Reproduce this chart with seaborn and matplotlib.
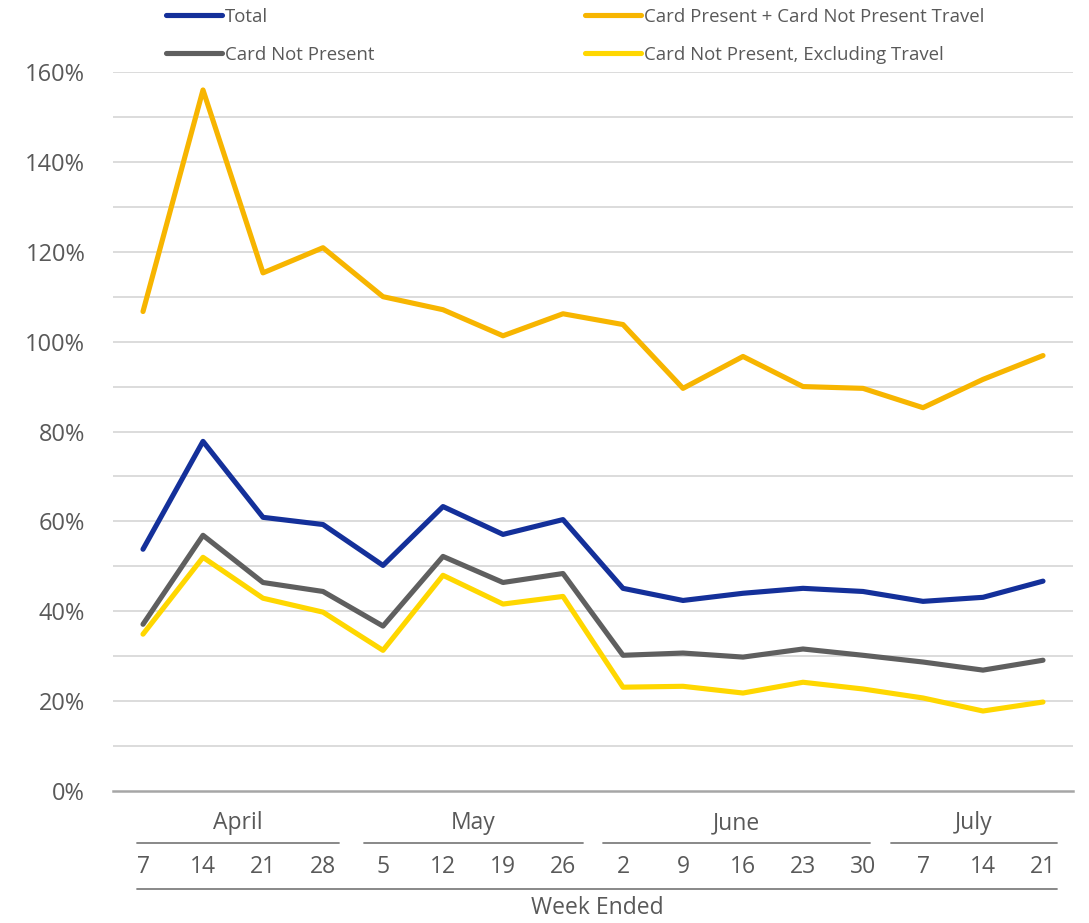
import matplotlib
matplotlib.use("Agg")
import matplotlib.pyplot as plt
from matplotlib.lines import Line2D
import matplotlib.transforms as mtransforms
import seaborn as sns
import pandas as pd
import numpy as np

# ---- data ----
week_labels = ["7", "14", "21", "28", "5", "12", "19", "26", "2", "9", "16", "23", "30", "7", "14", "21"]
months = ["April", "May", "June", "July"]
month_sizes = [4, 4, 5, 3]

total = [53.8, 77.8, 60.9, 59.3, 50.2, 63.3, 57.1, 60.4, 45.1, 42.4, 44.0, 45.1, 44.4, 42.2, 43.1, 46.7]
cp_cnp_travel = [106.7, 156.0, 115.3, 120.9, 110.0, 107.1, 101.3, 106.2, 103.8, 89.6, 96.7, 90.0, 89.6, 85.3, 91.6, 96.9]
cnp = [37.1, 56.9, 46.4, 44.4, 36.7, 52.2, 46.4, 48.4, 30.2, 30.7, 29.8, 31.6, 30.2, 28.7, 26.9, 29.1]
cnp_excl_travel = [34.9, 52.0, 42.9, 39.8, 31.3, 48.0, 41.6, 43.3, 23.1, 23.3, 21.8, 24.2, 22.7, 20.7, 17.8, 19.8]

series_names = ["Total", "Card Present + Card Not Present Travel", "Card Not Present",
                "Card Not Present, Excluding Travel"]
series_values = [total, cp_cnp_travel, cnp, cnp_excl_travel]
colors = ["#14309A", "#F7B500", "#5F5F5F", "#FFD700"]

rows = []
for name, vals in zip(series_names, series_values):
    for i, v in enumerate(vals):
        rows.append({"idx": i, "value": v, "series": name})
df = pd.DataFrame(rows)

sns.set_theme(style="white")
plt.rcParams['font.family'] = ['Open Sans', 'DejaVu Sans']
text_color = "#595959"

W, H = 1089, 923
fig = plt.figure(figsize=(W / 100, H / 100), dpi=100)
ax = fig.add_axes([113 / W, (H - 791) / H, (1073 - 113) / W, (791 - 72) / H])

# grid lines
for g in range(10, 170, 10):
    ax.axhline(g, color="#D9D9D9", lw=1.3, zorder=0)

palette = dict(zip(series_names, colors))
sns.lineplot(data=df, x="idx", y="value", hue="series", palette=palette, hue_order=series_names,
             linewidth=3.7, legend=False, ax=ax, zorder=3)
for line in ax.get_lines():
    line.set_solid_capstyle("round")
    line.set_solid_joinstyle("round")

ax.set_xlim(-0.5, len(week_labels) - 0.5)
ax.set_ylim(0, 160)
ax.set_yticks(range(0, 161, 20))
ax.set_yticklabels([f"{t}%" for t in range(0, 161, 20)], fontsize=17, color=text_color)
ax.tick_params(axis="y", length=0, pad=20)
ax.set_xticks([])
ax.set_xlabel("")
ax.set_ylabel("")
for s in ["top", "right", "left"]:
    ax.spines[s].set_visible(False)
ax.spines["bottom"].set_color("#A6A6A6")
ax.spines["bottom"].set_linewidth(1.8)

# multi-level x axis
trans = mtransforms.blended_transform_factory(ax.transData, ax.transAxes)
for i, lab in enumerate(week_labels):
    ax.text(i, -0.106, lab, transform=trans, ha="center", va="center", fontsize=16.5, color=text_color)

start_pads = [0.1, 0.32, 0.33, 0.53]
end_pads = [0.27, 0.33, 0.12, 0.23]
start = 0
for m, n, sp, ep in zip(months, month_sizes, start_pads, end_pads):
    x0 = start - sp
    x1 = start + n - 1 + ep
    ax.plot([x0, x1], [-0.072, -0.072], transform=trans, color="#7F7F7F", lw=1.3, clip_on=False)
    ax.text((x0 + x1) / 2, -0.045, m, transform=trans, ha="center", va="center", fontsize=16.5,
            color=text_color)
    start += n
bx0, bx1 = -0.1, len(week_labels) - 1 + 0.23
ax.plot([bx0, bx1], [-0.136, -0.136], transform=trans, color="#7F7F7F", lw=1.3, clip_on=False)
ax.text((bx0 + bx1) / 2, -0.163, "Week Ended", transform=trans, ha="center", va="center",
        fontsize=16.5, color=text_color)

# legends
def handles(idx):
    return [Line2D([], [], color=colors[i], lw=3.7, solid_capstyle="round") for i in idx]

leg_kw = dict(frameon=False, fontsize=13.4, handlelength=3.0, handletextpad=0.15,
              labelspacing=1.05, borderpad=0, borderaxespad=0, labelcolor=text_color, loc="upper left")
fig.legend(handles([0, 2]), [series_names[0], series_names[2]],
           bbox_to_anchor=(166 / W, 1 - 8 / H), **leg_kw)
fig.legend(handles([1, 3]), [series_names[1], series_names[3]],
           bbox_to_anchor=(585 / W, 1 - 8 / H), **leg_kw)

fig.savefig("out.png", dpi=100, facecolor="white")
